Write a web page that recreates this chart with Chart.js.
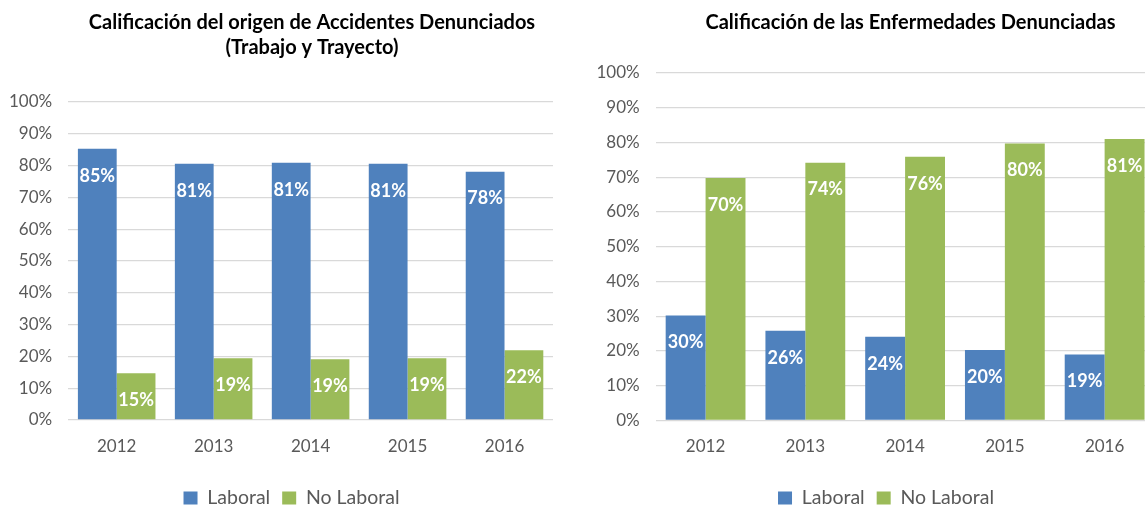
<!DOCTYPE html>
<html><head><meta charset="utf-8">
<script src="https://cdn.jsdelivr.net/npm/chart.js@4"></script>
<style>
html,body{margin:0;padding:0;background:#fff;overflow:hidden;width:1145px;height:508px;}
.box{position:absolute;top:0;height:508px;}
canvas{display:block;}
</style></head><body>
<div class="box" style="left:0;width:622px"><canvas id="c1" width="622" height="508"></canvas></div>
<div class="box" style="left:580px;width:660px"><canvas id="c2" width="660" height="508"></canvas></div>
<script>
// ---- data ----
const years = ['2012', '2013', '2014', '2015', '2016'];
const seriesNames = ['Laboral', 'No Laboral'];
const accLaboral = [85.3, 80.6, 80.9, 80.6, 78.1];
const accNoLaboral = [14.7, 19.4, 19.1, 19.4, 21.9];
const enfLaboral = [30.2, 25.8, 24.1, 20.3, 19.0];
const enfNoLaboral = [69.8, 74.2, 75.9, 79.7, 81.0];
const title1 = ['Calificación del origen de Accidentes Denunciados', '(Trabajo y Trayecto)'];
const title2 = 'Calificación de las Enfermedades Denunciadas';

// ---- styles ----
const BLUE = '#4F81BD', GREEN = '#9BBB59', GRID = '#D9D9D9', TXT = '#595959';
const LEGEND_FONT = 19.5, LEGEND_BOX_H = 13, LEGEND_PAD = 12;
Chart.defaults.font.family = 'Lato, "Open Sans", sans-serif';

const barLabels = {
  id: 'barLabels',
  afterDatasetsDraw(chart, args, opts) {
    const ctx = chart.ctx;
    ctx.save();
    ctx.font = 'bold 18px Lato, sans-serif';
    ctx.fillStyle = '#ffffff';
    ctx.textAlign = 'center';
    ctx.textBaseline = 'middle';
    chart.data.datasets.forEach((ds, di) => {
      chart.getDatasetMeta(di).data.forEach((bar, i) => {
        ctx.fillText(Math.round(ds.data[i]) + '%', bar.x, bar.y + opts.offset);
      });
    });
    ctx.restore();
  }
};
const placeBoxes = {
  id: 'placeBoxes',
  afterLayout(chart, args, o) {
    const tb = chart.titleBlock;
    if (tb) { const w = tb.right - tb.left; tb.left = o.titleCx - w / 2; tb.right = tb.left + w; }
    const lg = chart.legend;
    if (lg) {
      const w = lg.right - lg.left; lg.left = o.legendCx - w / 2; lg.right = lg.left + w;
      const ih = Math.max(LEGEND_FONT, LEGEND_BOX_H);
      const dy = o.legendCy - (lg.top + LEGEND_PAD + ih / 2);
      lg.top += dy; lg.bottom += dy;
    }
  }
};

function makeChart(id, title, lab, nolab, L) {
  return new Chart(document.getElementById(id), {
    type: 'bar',
    data: {
      labels: years,
      datasets: [
        { label: seriesNames[0], data: lab, backgroundColor: BLUE, categoryPercentage: 0.8, barPercentage: 1.0 },
        { label: seriesNames[1], data: nolab, backgroundColor: GREEN, categoryPercentage: 0.8, barPercentage: 1.0 }
      ]
    },
    options: {
      responsive: false,
      animation: false,
      layout: { padding: { left: 0, right: L.padRight, top: 0, bottom: 0 } },
      plugins: {
        title: {
          display: true, text: title, color: '#000',
          font: { size: 20, weight: 'bold', lineHeight: 1.25 },
          padding: { top: 10, bottom: L.titleBottom }
        },
        legend: {
          position: 'bottom',
          labels: { boxWidth: 14, boxHeight: LEGEND_BOX_H, color: TXT, font: { size: LEGEND_FONT }, padding: LEGEND_PAD }
        },
        tooltip: { enabled: false },
        barLabels: { offset: 27 },
        placeBoxes: { titleCx: L.titleCx, legendCx: L.legendCx, legendCy: 498 }
      },
      scales: {
        x: {
          grid: { display: false },
          border: { display: false },
          ticks: { color: TXT, font: { size: 17 }, padding: 8 },
          afterFit(axis) { axis.height = L.xHeight; }
        },
        y: {
          min: 0, max: 100,
          ticks: { stepSize: 10, color: TXT, font: { size: 17 }, padding: 16, callback: v => v + '%' },
          grid: { color: GRID, lineWidth: 1.3, drawTicks: false },
          border: { display: false },
          afterFit(axis) { axis.width = L.yWidth; }
        }
      }
    },
    plugins: [barLabels, placeBoxes]
  });
}

makeChart('c1', title1, accLaboral, accNoLaboral,
  { padRight: 69, titleBottom: 42, yWidth: 68.2, xHeight: 46.5, titleCx: 312, legendCx: 291.5 });
makeChart('c2', title2, enfLaboral, enfNoLaboral,
  { padRight: 85.5, titleBottom: 38, yWidth: 75.7, xHeight: 46, titleCx: 330.5, legendCx: 306 });
</script>
</body></html>
